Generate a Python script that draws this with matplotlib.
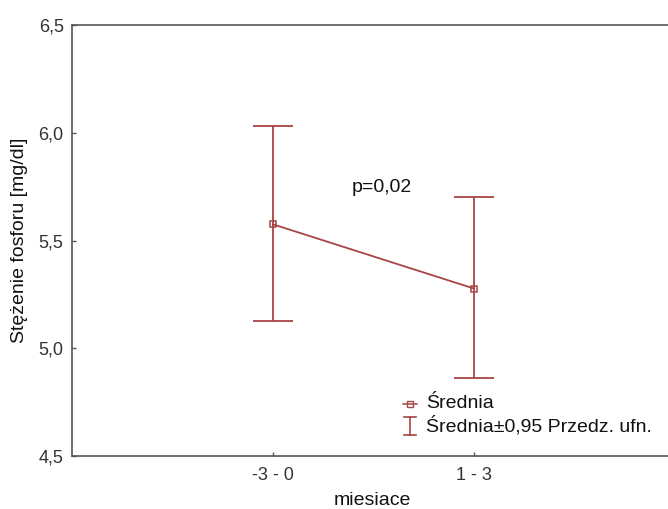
import matplotlib
matplotlib.use("Agg")
import matplotlib.pyplot as plt
from matplotlib.ticker import FuncFormatter
from matplotlib.lines import Line2D

categories = ["-3 - 0", "1 - 3"]
means = [5.575, 5.277]
lower = [5.127, 4.862]
upper = [6.033, 5.704]
yticks = [4.5, 5.0, 5.5, 6.0, 6.5]
legend_labels = ["Średnia", "Średnia±0,95 Przedz. ufn."]

plt.rcParams['font.family'] = ['Liberation Sans', 'DejaVu Sans']
color = '#a84444'
W, H = 668, 509
fig = plt.figure(figsize=(W/100, H/100), dpi=100)
ax = fig.add_axes([72/W, (H-456)/H, (675-72)/W, (456-25)/H])

x = [1, 2]
yerr = [[m - l for m, l in zip(means, lower)], [u - m for m, u in zip(means, upper)]]
ax.errorbar(x, means, yerr=yerr, fmt='none', ecolor=color, elinewidth=1.3,
            capsize=14.4, capthick=1.3)
ax.plot(x, means, color=color, lw=1.3, marker='s', ms=4.5, mfc='none', mec=color,
        mew=1.1)

ax.set_xlim(0, 3)
ax.set_ylim(4.5, 6.5)
ax.set_xticks(x)
ax.set_xticklabels(categories)
ax.set_yticks(yticks)
ax.yaxis.set_major_formatter(FuncFormatter(lambda v, p: f"{v:.1f}".replace('.', ',')))
ax.tick_params(direction='in', length=3, width=1, colors='#555555', labelcolor='#333333',
               labelsize=13)
ax.tick_params(axis='y', pad=6)
ax.tick_params(axis='x', pad=8)
for s in ['left', 'bottom', 'top']:
    ax.spines[s].set_color('#555555')
    ax.spines[s].set_linewidth(1.2)
ax.spines['right'].set_visible(False)

ax.set_ylabel('Stężenie fosforu [mg/dl]', fontsize=14, color='#111111')
ax.yaxis.label.set_va('center')
ax.yaxis.set_label_coords((20 - 72) / 603, 0.5)
ax.set_xlabel('miesiace', fontsize=14, color='#111111')
ax.xaxis.label.set_va('baseline')
ax.xaxis.set_label_coords((372 - 72) / 603, (456 - 505) / 431)
ax.text(1.393, 5.745, 'p=0,02', fontsize=14, color='#111111', ha='left', va='center')

# legend drawn manually (pixel positions)
def fx(px):
    return px / W

def fy(py):
    return 1 - py / H

fig.add_artist(Line2D([fx(403), fx(417)], [fy(404), fy(404)], color=color, lw=1.1))
fig.add_artist(Line2D([fx(410)], [fy(404)], color=color, lw=0, marker='s', ms=4.5,
                      mfc='none', mec=color, mew=1.0))
fig.add_artist(Line2D([fx(410), fx(410)], [fy(417), fy(435)], color=color, lw=1.2))
fig.add_artist(Line2D([fx(404), fx(416)], [fy(417), fy(417)], color=color, lw=1.2))
fig.add_artist(Line2D([fx(404), fx(416)], [fy(435), fy(435)], color=color, lw=1.2))
fig.text(fx(426), fy(404), legend_labels[0], fontsize=14, color='#111111', ha='left', va='center')
fig.text(fx(426), fy(426), legend_labels[1], fontsize=14, color='#111111', ha='left', va='center')

fig.savefig('out.png', dpi=100)
